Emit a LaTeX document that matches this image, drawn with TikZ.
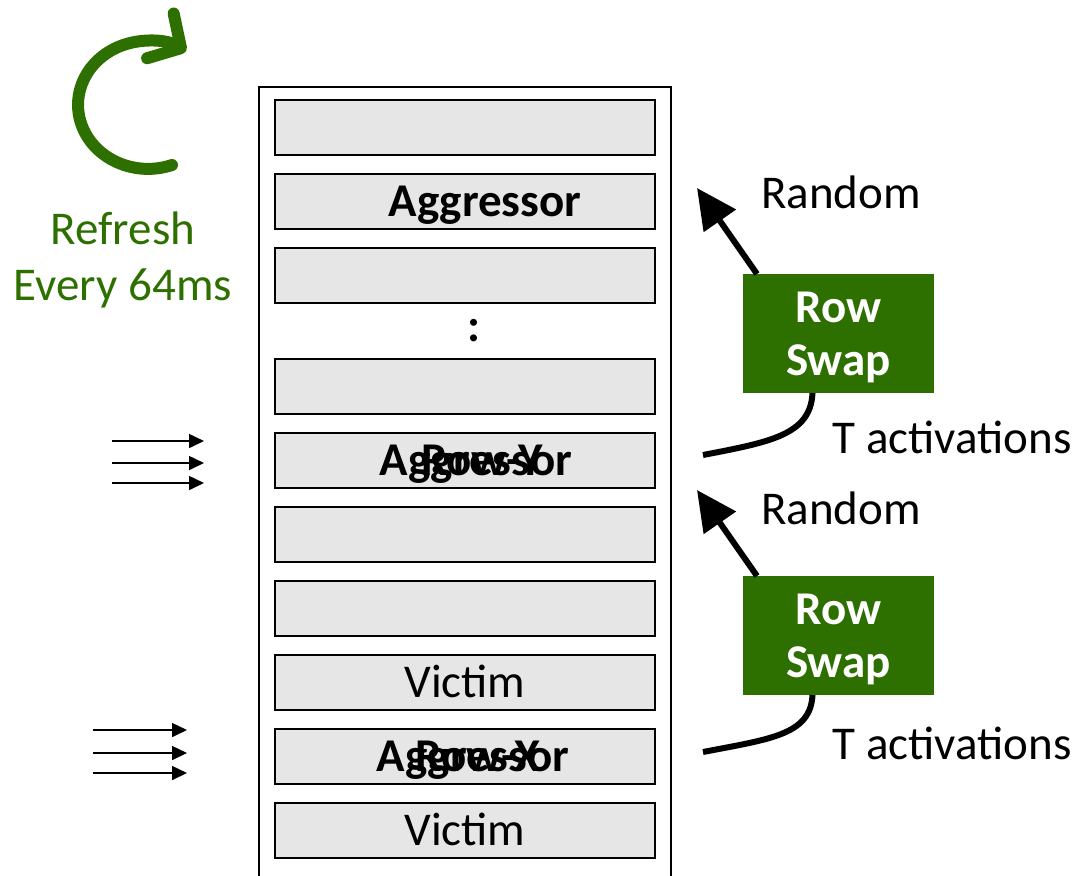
\documentclass[tikz,border=0pt]{standalone}
\usepackage{fontspec}
\setmainfont{Carlito}
\usetikzlibrary{arrows.meta,calc,positioning}
\definecolor{swapgreen}{RGB}{46,112,0}
\definecolor{rowgray}{RGB}{230,230,230}

\begin{document}
\begin{tikzpicture}[x=0.5pt,y=-0.5pt,
    every node/.style={font=\fontsize{23.5}{28}\selectfont,inner sep=0pt,outer sep=0pt},
    bankbox/.style={draw,line width=1.2pt,minimum width=206pt,minimum height=406.5pt},
    rowbox/.style={draw,line width=1.4pt,fill=rowgray,minimum width=190pt,minimum height=27.5pt,
        text height=15pt,text depth=0pt},
    lbl/.style={font=\fontsize{23.5}{28}\selectfont\bfseries,text height=15pt,text depth=0pt},
    swapbox/.style={fill=swapgreen,text=white,font=\fontsize{23.5}{26.5}\selectfont\bfseries,
        align=center,minimum width=95.5pt,minimum height=59.5pt,text depth=0pt},
    hammer/.style={-{Triangle[length=7.5pt,width=7pt]},line width=0.8pt},
    jump/.style={-{Triangle[length=20pt,width=19pt]},line width=3pt},
    count/.style={line width=3pt},
    node distance=9.5pt]
    \useasboundingbox (0,0) rectangle (1081,875);
    \clip (0,0) rectangle (1081,875);

    % refresh
    \draw[swapgreen,line width=6pt,line cap=round,-{Straight Barb[length=12pt,width=26pt,round]}]
        (172,165) arc[start angle=70,end angle=303,x radius=70,y radius=64];
    \node[text=swapgreen,align=center] (refresh) at (123,260) {Refresh\\Every 64ms};

    % bank of rows
    \node[bankbox] (bank) at (465,493.5) {};
    \node[rowbox] (r1) at (465,127.5) {};
    \node[rowbox] (r2) [below=of r1] {};
    \node[rowbox] (r3) [below=of r2] {};
    \node[rowbox] (r4) [below=28pt of r3] {};
    \node[rowbox] (r5) [below=of r4] {};
    \node[rowbox] (r6) [below=of r5] {};
    \node[rowbox] (r7) [below=of r6] {};
    \node[rowbox] (r8) [below=of r7] {Victim};
    \node[rowbox] (r9) [below=of r8] {};
    \node[rowbox] (r10) [below=of r9] {Victim};
    \node[font=\fontsize{23.5}{28}\selectfont\bfseries] (vdots) at ($(r3)!0.5!(r4)+(9,0)$) {:};

    \node[lbl] (agg1) at ([xshift=10pt]r2.center) {Aggressor};
    \node[lbl] (agg2) at ([xshift=5.5pt]r5.center) {Aggressor};
    \node[lbl] (rowy) at ([xshift=8.5pt]r5.center) {Row-Y};
    \node[lbl] (agg3) at ([xshift=4pt]r9.center) {Aggressor};
    \node[lbl] (rowx) at ([xshift=6.5pt]r9.center) {Row-X};

    % hammering
    \foreach \i/\y in {1/441,2/463,3/483} {
        \coordinate (ha\i) at (112,\y);
        \coordinate (hb\i) at (204,\y);
        \draw[hammer] (ha\i) -- (hb\i);
    }
    \foreach \i/\y in {1/730,2/753,3/773} {
        \coordinate (hc\i) at (93,\y);
        \coordinate (hd\i) at (187,\y);
        \draw[hammer] (hc\i) -- (hd\i);
    }

    % row swap
    \node[swapbox] (sw1) at (838.5,333.5) {Row\\Swap};
    \node[swapbox] (sw2) [below=91.5pt of sw1] {Row\\Swap};

    \coordinate (rt1) at (697,188);
    \coordinate (rt2) at (697,490);
    \draw[jump] ([xshift=7pt]sw1.north west) -- (rt1);
    \draw[jump] ([xshift=7pt]sw2.north west) -- (rt2);
    \node (rand1) at (841,192) {Random};
    \node (rand2) at (841,508) {Random};

    \coordinate (ta1) at (703,455);
    \coordinate (ta2) at (703,752);
    \draw[count] ([xshift=-13pt]sw1.south) .. controls +(-2,42) and +(67,-13) .. (ta1);
    \draw[count] ([xshift=-13pt]sw2.south) .. controls +(-2,40) and +(67,-13) .. (ta2);
    \node (tact1) at (952,437) {T activations};
    \node (tact2) at (952,743) {T activations};
\end{tikzpicture}
\end{document}
